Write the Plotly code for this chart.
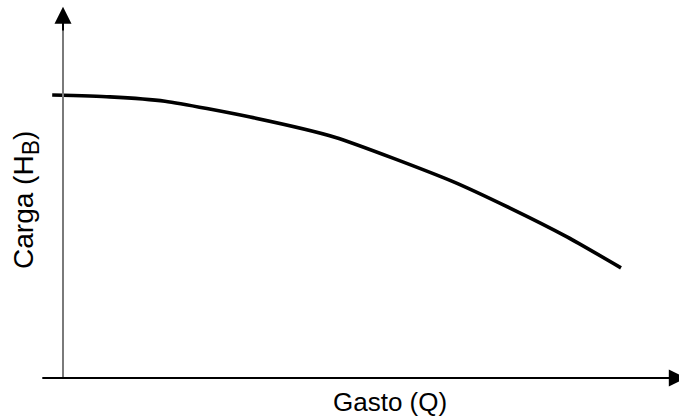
import plotly.graph_objects as go

# Pump curve (arbitrary units)
gasto_q = [-0.18, 0.78, 1.70, 3.12, 4.53, 6.48, 7.45, 8.40, 9.30]
carga_h = [7.86, 7.81, 7.69, 7.25, 6.69, 5.47, 4.72, 3.92, 3.06]

x_label = "Gasto (Q)"
y_label = "Carga (H<sub><span style='font-size:23px'>B</span></sub>)"

# axis extents (data units)
Q_AXIS_START = -0.37
Q_AXIS_END = 10.38
H_AXIS_END = 10.31
X_RANGE = [-1.05, 10.2667]
Y_RANGE = [-1.1389, 10.5]

FONT = "Liberation Sans, Arial, sans-serif"

fig = go.Figure()
fig.add_trace(go.Scatter(
    x=gasto_q, y=carga_h, mode="lines",
    line=dict(color="black", width=3.6, shape="spline", smoothing=0.6),
    hoverinfo="skip", showlegend=False,
))

shapes = [
    dict(type="line", xref="x", yref="y", x0=0, y0=0, x1=0, y1=H_AXIS_END - 0.4,
         line=dict(color="#7a7a7a", width=2)),
]

annotations = [
    # x axis with arrow
    dict(x=Q_AXIS_END, y=0, ax=Q_AXIS_START, ay=0, xref="x", yref="y",
         axref="x", ayref="y", text="", showarrow=True, arrowhead=2,
         arrowsize=1.7, arrowwidth=2, arrowcolor="black", standoff=0),
    # y axis arrow head
    dict(x=0, y=H_AXIS_END, ax=0, ay=H_AXIS_END - 0.7, xref="x", yref="y",
         axref="x", ayref="y", text="", showarrow=True, arrowhead=2,
         arrowsize=1.7, arrowwidth=2, arrowcolor="black", standoff=0),
    dict(x=5.45, y=-0.67, xref="x", yref="y", text=x_label, showarrow=False,
         font=dict(family=FONT, size=26, color="black")),
    dict(x=-0.62, y=4.94, xref="x", yref="y", text=y_label, showarrow=False,
         textangle=-90, font=dict(family=FONT, size=28, color="black")),
]

fig.update_layout(
    width=679, height=419,
    margin=dict(l=0, r=0, t=0, b=0),
    paper_bgcolor="white", plot_bgcolor="white",
    xaxis=dict(range=X_RANGE, visible=False, fixedrange=True),
    yaxis=dict(range=Y_RANGE, visible=False, fixedrange=True),
    shapes=shapes, annotations=annotations,
    showlegend=False,
)

fig.write_html("out.html", config={"displayModeBar": False},
               post_script="document.body.style.margin='0px';document.body.style.overflow='hidden';")
